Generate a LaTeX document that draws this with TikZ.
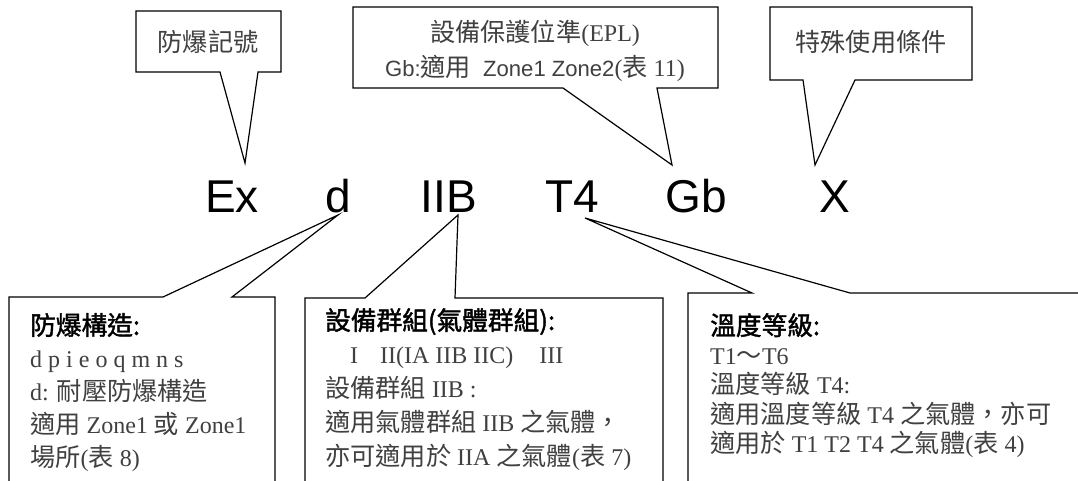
\documentclass[tikz,border=0pt]{standalone}
\usepackage{fontspec}
\setmainfont{Liberation Serif}
\newfontfamily\cjkfont[Scale=1.05]{Noto Sans CJK TC}
\newfontfamily\cjkheadfont[Scale=1.07, FakeBold=1.6]{Noto Sans CJK TC}
\newfontfamily\arialfont{Liberation Sans}
\newfontfamily\arialsmall[Scale=0.92]{Liberation Sans}
\newcommand{\zh}[1]{{\cjkfont #1}}
\newcommand{\zhhead}[1]{{\color{black}\cjkheadfont #1}}
\usetikzlibrary{calc}
\definecolor{textgray}{gray}{0.25}

\begin{document}
\begin{tikzpicture}[x=1pt, y=-1pt,
	callout/.style={draw, line width=1.2pt, fill=white},
	code/.style={font={\arialfont\fontsize{46}{50}\selectfont}, anchor=base, inner sep=0pt},
	note/.style={font={\fontsize{24}{35}\selectfont}, text=textgray, inner sep=0pt}]
	\useasboundingbox (0,0) rectangle (1078,481);
	\clip (0,0) rectangle (1078,481);

	% the marking itself
	\node[code] (ex) at (232,212) {Ex};
	\node[code] (d)  at (338,212) {d};
	\node[code] (iib) at (449,212) {IIB};
	\node[code] (t4) at (572,212) {T4};
	\node[code] (gb) at (696,212) {Gb};
	\node[code] (x)  at (835,212) {X};

	% tips of the callouts
	\coordinate (tipex) at (245,163);
	\coordinate (tipgb) at (672,165);
	\coordinate (tipx)  at (815,165);
	\coordinate (tipd)  at (338,215);
	\coordinate (tipiib) at (458,215);
	\coordinate (tipt4) at (585,218);

	% upper callouts
	\draw[callout] (136,11) -- (281,11) -- (281,72) -- (258,72) -- (tipex) -- (220,72) -- (136,72) -- cycle;
	\draw[callout] (353,7) -- (718,7) -- (718,88) -- (657,88) -- (tipgb) -- (563,88) -- (353,88) -- cycle;
	\draw[callout] (770,7) -- (972,7) -- (972,80) -- (855,80) -- (tipx) -- (803,80) -- (770,80) -- cycle;

	\node[note] (marktxt) at (208,42) {\zh{防爆記號}};
	\node[note, align=center] (epltxt) at (535,51) {\zh{設備保護位準}(EPL)\\{\arialsmall Gb:}\zh{適用}\ \ {\arialsmall Zone1 Zone2}(\zh{表} 11)};
	\node[note] (condtxt) at (871,42) {\zh{特殊使用條件}};

	% lower callouts
	\draw[callout] (9,495) -- (9,297) -- (163,297) -- (tipd) -- (232,297) -- (275,297) -- (275,495);
	\draw[callout] (305,495) -- (305,298) -- (365,298) -- (tipiib) -- (455,298) -- (663,298) -- (663,495);
	\draw[callout] (688,495) -- (688,293) -- (752,293) -- (tipt4) -- (850,293) -- (1095,293) -- (1095,495);

	\node[note, align=left, anchor=north west, font={\fontsize{24}{33}\selectfont}] (dtxt) at (30,313) {%
		\zhhead{防爆構造:}\\
		d p i e o q m n s\\
		d: \zh{耐壓防爆構造}\\
		\zh{適用} Zone1 \zh{或} Zone1\\
		\zh{場所}(\zh{表} 8)};
	\node[note, align=left, anchor=north west, font={\fontsize{24}{34}\selectfont}] (iibtxt) at (325,308) {%
		\zhhead{設備群組(氣體群組):}\\
		\hspace*{25pt}I\hspace{22pt}II(IA IIB IIC)\hspace{26pt}III\\
		\zh{設備群組} IIB :\\
		\zh{適用氣體群組} IIB \zh{之氣體，}\\
		\zh{亦可適用於} IIA \zh{之氣體}(\zh{表} 7)};
	\node[note, align=left, anchor=north west, font={\fontsize{24}{29.5}\selectfont}] (t4txt) at (710,313) {%
		\zhhead{溫度等級:}\\
		T1\zh{～}T6\\
		\zh{溫度等級} T4:\\
		\zh{適用溫度等級} T4 \zh{之氣體，亦可}\\
		\zh{適用於} T1 T2 T4 \zh{之氣體}(\zh{表} 4)};
\end{tikzpicture}
\end{document}
